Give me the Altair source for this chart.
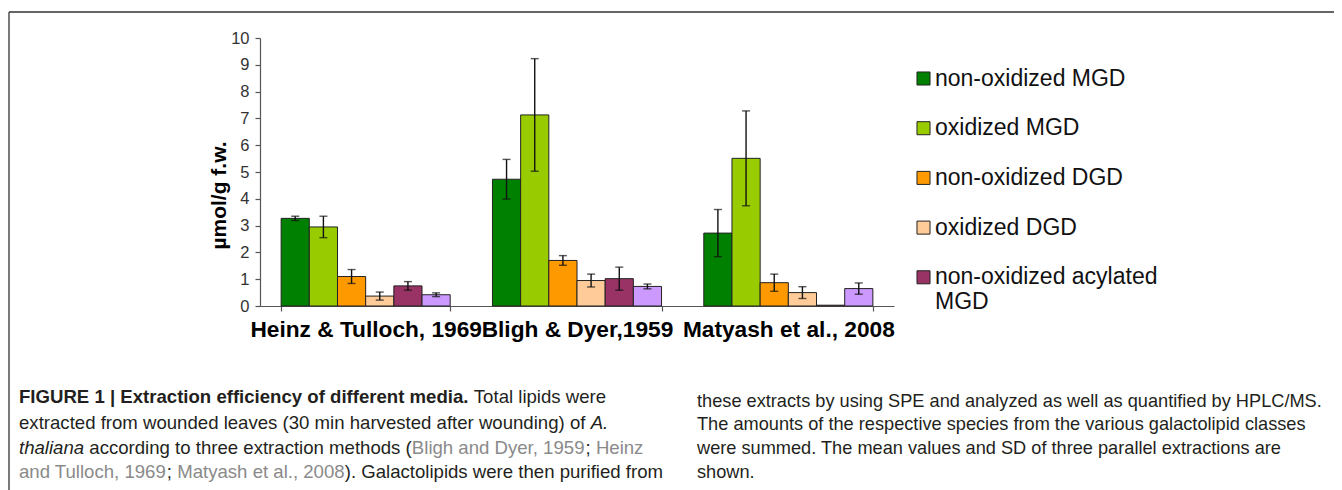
import altair as alt
import pandas as pd

# ---------------- data ----------------
methods = ["Heinz & Tulloch, 1969", "Bligh & Dyer,1959", "Matyash et al., 2008"]
lipids = ["non-oxidized MGD", "oxidized MGD", "non-oxidized DGD", "oxidized DGD",
          "non-oxidized acylated MGD", "oxidized acylated MGD"]
colors = ["#008000", "#99CC00", "#FF9900", "#FFCC99", "#993366", "#CC99FF"]

heinz_mean = [3.27, 2.95, 1.10, 0.37, 0.75, 0.42]
heinz_sd = [0.08, 0.40, 0.26, 0.15, 0.16, 0.07]
bligh_mean = [4.73, 7.13, 1.70, 0.95, 1.02, 0.73]
bligh_sd = [0.74, 2.10, 0.18, 0.24, 0.43, 0.09]
matyash_mean = [2.72, 5.51, 0.87, 0.50, 0.03, 0.65]
matyash_sd = [0.88, 1.77, 0.32, 0.22, 0.00, 0.21]

y_title = "µmol/g f.w."
y_ticks = [0, 1, 2, 3, 4, 5, 6, 7, 8, 9, 10]

caption_left = [
    [("FIGURE 1 | Extraction efficiency of different media.", "b"), (" Total lipids were", "r")],
    [("extracted from wounded leaves (30 min harvested after wounding) of ", "r"), ("A.", "i")],
    [("thaliana", "i"), (" according to three extraction methods (", "r"),
     ("Bligh and Dyer, 1959", "g"), ("; ", "r"), ("Heinz", "g")],
    [("and Tulloch, 1969", "g"), ("; ", "r"), ("Matyash et al., 2008", "g"),
     ("). Galactolipids were then purified from", "r")],
]
caption_right = [
    [("these extracts by using SPE and analyzed as well as quantified by HPLC/MS.", "r")],
    [("The amounts of the respective species from the various galactolipid classes", "r")],
    [("were summed. The mean values and SD of three parallel extractions are", "r")],
    [("shown.", "r")],
]

rows = []
for m, means, sds in zip(methods, [heinz_mean, bligh_mean, matyash_mean],
                         [heinz_sd, bligh_sd, matyash_sd]):
    for l, v, s in zip(lipids, means, sds):
        rows.append({"method": m, "lipid": l, "mean": v, "sd": s,
                     "lo": v - s, "hi": v + s})
df = pd.DataFrame(rows)

# ---------------- style / layout ----------------
FONT = "Liberation Sans"
AX = "#555555"
W, H = 634, 268
PAD_L, PAD_T = 252, 30
SVG_W, SVG_H = 1326, 482

# Helvetica/Arial advance widths (1/1000 em) for ' '..'~'
_REG = [278, 278, 355, 556, 556, 889, 667, 191, 333, 333, 389, 584, 278, 333, 278, 278,
        556, 556, 556, 556, 556, 556, 556, 556, 556, 556, 278, 278, 584, 584, 584, 556,
        1015, 667, 667, 722, 722, 667, 611, 778, 722, 278, 500, 667, 556, 833, 722, 778,
        667, 778, 722, 667, 611, 722, 667, 944, 667, 667, 611, 278, 278, 278, 469, 556,
        333, 556, 556, 500, 556, 556, 278, 556, 556, 222, 222, 500, 222, 833, 556, 556,
        556, 556, 333, 500, 278, 556, 500, 722, 500, 500, 500, 334, 260, 334, 584]
_BOLD = [278, 333, 474, 556, 556, 889, 722, 238, 333, 333, 389, 584, 278, 333, 278, 278,
         556, 556, 556, 556, 556, 556, 556, 556, 556, 556, 333, 333, 584, 584, 584, 611,
         975, 722, 722, 722, 722, 667, 611, 778, 722, 278, 556, 722, 611, 833, 722, 778,
         667, 778, 722, 667, 611, 722, 667, 944, 667, 667, 611, 333, 278, 333, 584, 556,
         333, 556, 611, 556, 611, 556, 333, 611, 611, 278, 278, 556, 278, 889, 611, 611,
         611, 611, 389, 556, 333, 611, 556, 778, 556, 556, 500, 389, 280, 389, 584]


def text_width(s, size, bold=False):
    tab = _BOLD if bold else _REG
    return sum(tab[ord(c) - 32] if 32 <= ord(c) <= 126 else 556 for c in s) * size / 1000.0


one = alt.InlineData(values=[{"k": 1}])


def caption_layers(lines, x0, baselines, size):
    layers = []
    for line, yb in zip(lines, baselines):
        cur = x0
        for txt, sty in line:
            bold = sty == "b"
            stripped = txt.lstrip(" ")
            lead = text_width(txt[: len(txt) - len(stripped)], size, bold)
            kw = dict(align="left", baseline="alphabetic", fontSize=size, font=FONT,
                      color="#8a8a8a" if sty == "g" else "#231f20")
            if bold:
                kw["fontWeight"] = "bold"
            if sty == "i":
                kw["fontStyle"] = "italic"
            layers.append(
                alt.Chart(one).mark_text(**kw).encode(
                    x=alt.value(cur + lead - (PAD_L + 8)),
                    y=alt.value(yb - (PAD_T + 8)),
                    text=alt.value(stripped.rstrip(" ")),
                )
            )
            cur += text_width(txt, size, bold)
    return layers


x_axis = alt.Axis(labelAngle=0, labelFontSize=22.7, labelFontWeight="bold", labelFont=FONT,
                  labelColor="#000000", labelPadding=7, labelLimit=400, labelOverlap=False,
                  tickBand="extent", tickSize=5, tickColor=AX, domainColor=AX,
                  domainWidth=1.2, tickWidth=1.2)
y_axis = alt.Axis(values=y_ticks, grid=False, titleFontSize=21,
                  titleFontWeight="bold", titleFont=FONT, titleColor="#000000",
                  titleX=-31, titleY=157, titleAlign="center",
                  labelFontSize=16.5, labelFont=FONT, labelColor="#333333",
                  labelOverlap=False, labelPadding=6, tickSize=5, tickColor=AX,
                  domainColor=AX, domainWidth=1.2, tickWidth=1.2)
x_scale = alt.Scale(paddingInner=0.2, paddingOuter=0.1)
xoff = alt.XOffset("lipid:N", sort=lipids, scale=alt.Scale(paddingInner=0, paddingOuter=0))
y_scale = alt.Scale(domain=[0, 10], nice=False)


def xe():
    return alt.X("method:N", sort=methods, title=None, scale=x_scale, axis=x_axis)


def ye(field):
    return alt.Y(field, scale=y_scale, title=y_title, axis=y_axis)


bars = alt.Chart(df).mark_bar(stroke="#222222", strokeWidth=1).encode(
    x=xe(),
    xOffset=xoff,
    y=ye("mean:Q"),
    color=alt.Color(
        "lipid:N", sort=lipids,
        scale=alt.Scale(domain=lipids, range=colors),
        legend=alt.Legend(
            title=None, orient="none", legendX=652, legendY=29, values=lipids[:5],
            symbolType="square", symbolSize=170, symbolStrokeColor="#222222",
            symbolStrokeWidth=1, labelFontSize=23, labelFont=FONT, labelColor="#111111",
            labelOffset=0, rowPadding=25.7, padding=0, labelLimit=500,
            labelExpr="datum.label == 'non-oxidized acylated MGD' ? "
                      "['non-oxidized acylated', 'MGD'] : datum.label",
        ),
    ),
)

err = alt.Chart(df).transform_filter("datum.sd > 0")
rules = err.mark_rule(color="#111111", strokeWidth=1.4).encode(
    x=xe(), xOffset=xoff, y=ye("lo:Q"), y2="hi:Q")
cap_lo = err.mark_tick(color="#111111", size=8, thickness=1.4).encode(
    x=xe(), xOffset=xoff, y=ye("lo:Q"))
cap_hi = err.mark_tick(color="#111111", size=8, thickness=1.4).encode(
    x=xe(), xOffset=xoff, y=ye("hi:Q"))

fx = 9 - (PAD_L + 8)
fy = 12 - (PAD_T + 8)
frame_top = alt.Chart(one).mark_rule(color="#333333", strokeWidth=1.3).encode(
    x=alt.value(fx), x2=alt.value(SVG_W - PAD_L), y=alt.value(fy))
frame_left = alt.Chart(one).mark_rule(color="#333333", strokeWidth=1.3).encode(
    x=alt.value(fx), y=alt.value(fy), y2=alt.value(SVG_H - PAD_T))

layers = [bars, rules, cap_lo, cap_hi, frame_top, frame_left]
layers += caption_layers(caption_left, 19, [403, 429, 454, 478], 18.6)
layers += caption_layers(caption_right, 697, [407, 430, 454, 478], 18.2)

chart = alt.layer(*layers).properties(
    width=W, height=H,
    padding={"left": PAD_L, "top": PAD_T, "right": SVG_W - PAD_L - W,
             "bottom": SVG_H - PAD_T - H},
    autosize=alt.AutoSizeParams(type="none"),
).configure_view(strokeWidth=0)

chart.save("out.html", embed_options={"renderer": "svg", "actions": False})
